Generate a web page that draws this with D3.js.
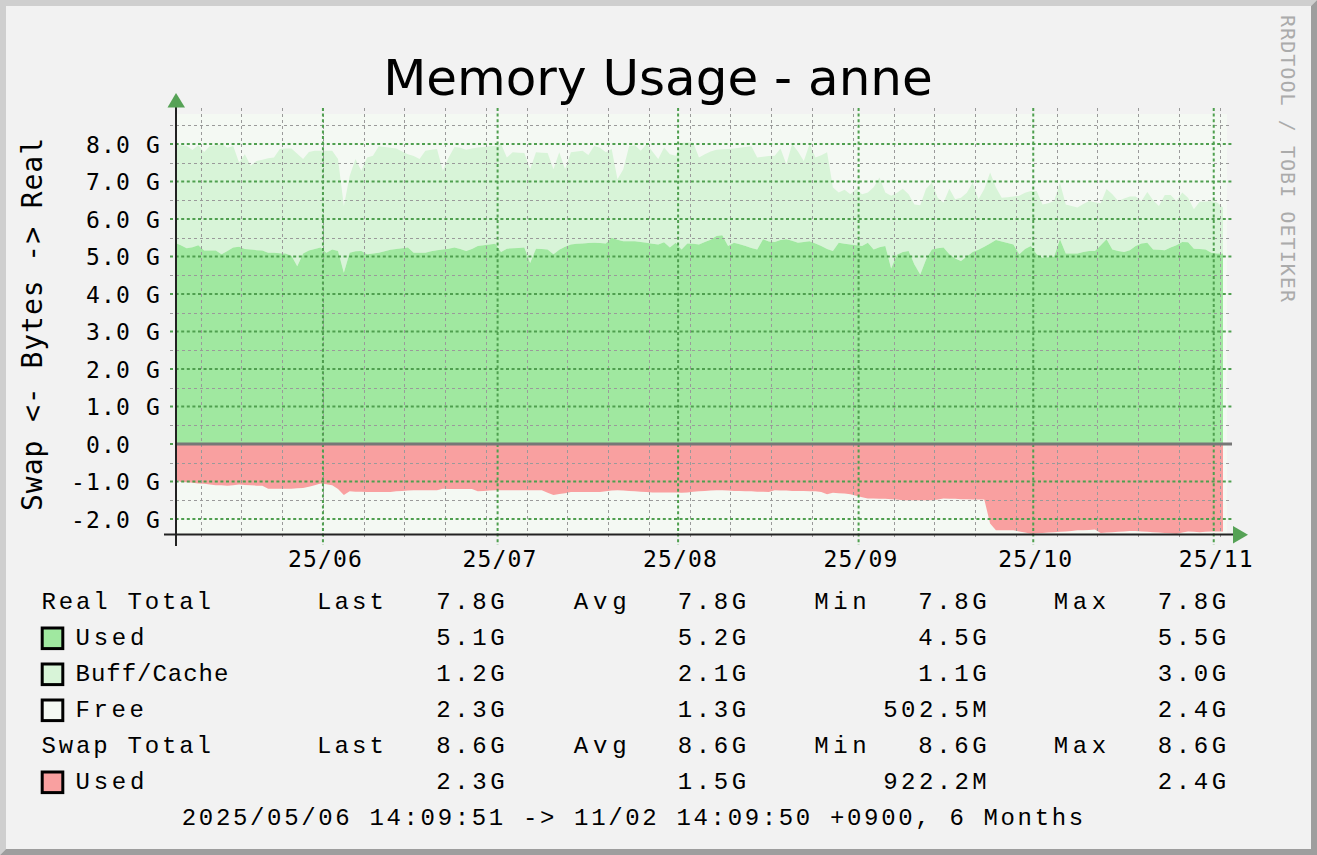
<!DOCTYPE html>
<html><head><meta charset="utf-8">
<script src="https://cdn.jsdelivr.net/npm/d3@7"></script>
<style>html,body{margin:0;padding:0;background:#f2f2f2;} svg{display:block}</style>
</head><body><svg id="c" width="1317" height="855"></svg>
<script>
// ---------- data ----------
const START = Date.UTC(2025, 4, 6, 5, 9, 51); // 2025/05/06 14:09:51 +0900
const END = Date.UTC(2025, 10, 2, 5, 9, 50);  // 2025/11/02 14:09:50 +0900
const STEP_MS = 86400000;                      // one sample per day
const TZ_MS = 9 * 3600000;

const usedReal = [5.37,5.30,5.22,5.25,5.30,5.16,5.16,5.16,5.06,5.15,
5.24,5.26,5.20,5.19,5.17,5.16,5.10,5.10,5.09,5.08,
5.02,4.74,5.08,5.16,5.20,5.24,5.10,5.19,5.15,4.57,
5.10,5.14,5.15,5.06,5.08,5.10,5.14,5.18,5.20,5.22,
5.24,5.10,5.10,5.10,5.14,5.17,5.19,5.21,5.24,5.20,
5.15,5.20,5.28,5.30,5.32,5.34,5.12,5.21,5.22,5.23,
5.24,4.83,5.21,5.20,5.19,5.06,5.18,5.26,5.32,5.34,
5.35,5.36,5.37,5.36,5.35,5.50,5.45,5.41,5.41,5.41,
5.39,5.37,5.34,5.32,5.38,5.24,5.37,5.19,5.35,5.34,
5.32,5.39,5.45,5.55,5.57,5.28,5.37,5.33,5.28,5.23,
5.19,5.46,5.40,5.39,5.44,5.46,5.42,5.37,5.39,5.41,
5.35,5.28,5.20,5.15,5.37,5.34,5.32,5.30,5.28,5.37,
5.19,5.25,5.28,4.68,5.05,5.12,5.15,4.79,4.52,4.92,
5.19,5.22,5.24,5.06,4.95,4.88,5.00,5.12,5.18,5.26,
5.35,5.44,5.40,5.36,5.32,5.06,5.20,5.28,5.06,4.97,
4.98,5.00,5.46,5.08,5.08,5.08,5.12,5.15,5.15,5.30,
5.46,5.19,5.15,5.12,5.17,5.28,5.35,5.37,5.19,5.18,
5.17,5.24,5.30,5.39,5.38,5.21,5.20,5.19,5.10,5.08,
5.08];

const buffCache = [2.63,2.67,2.73,2.59,2.67,2.63,2.79,2.81,2.94,2.75,
2.71,2.25,2.53,2.23,2.38,2.42,2.52,2.54,2.78,2.80,
2.86,3.00,2.52,2.63,2.62,2.58,2.72,2.63,2.45,1.78,
2.05,2.46,2.14,2.58,2.61,2.84,2.78,2.72,2.68,2.58,
2.49,2.58,2.50,2.72,2.71,2.70,2.10,2.43,2.68,2.70,
2.70,2.68,2.63,2.62,2.62,2.61,2.88,2.43,2.56,2.54,
2.52,2.50,2.57,2.57,2.57,2.27,2.60,2.07,2.46,2.46,
2.47,2.35,2.58,2.54,2.43,2.37,1.61,1.92,2.54,2.56,
2.43,2.63,2.46,2.28,2.53,2.49,2.32,2.84,2.69,2.70,
2.32,2.34,2.35,2.30,2.29,2.59,2.51,2.57,2.64,2.71,
2.45,2.20,2.28,2.30,2.44,2.00,2.58,2.43,2.16,2.59,
2.29,2.42,2.58,1.69,1.34,1.44,1.34,1.50,1.38,1.34,
1.66,1.86,1.43,1.94,1.65,1.69,1.51,1.60,1.85,1.89,
1.78,1.35,1.20,1.75,1.58,1.69,1.70,1.85,1.35,1.54,
1.89,1.40,1.17,1.22,1.28,1.56,1.50,1.47,1.69,1.42,
1.44,1.48,1.51,1.31,1.27,1.23,1.28,1.33,1.30,1.12,
1.34,1.47,1.33,1.43,1.43,1.32,1.13,1.35,1.31,1.17,
1.47,1.40,1.18,1.32,1.19,1.05,1.26,1.28,1.38,1.36,
1.23];

const freeReal = [0.62,0.60,0.58,0.66,0.58,0.70,0.56,0.54,0.50,0.60,
0.56,0.98,0.76,1.06,0.92,0.90,0.86,0.84,0.62,0.60,
0.60,0.74,0.88,0.70,0.66,0.66,0.66,0.66,0.88,2.10,
1.32,0.88,1.20,0.84,0.80,0.56,0.58,0.60,0.62,0.70,
0.76,0.80,0.88,0.66,0.64,0.62,1.18,0.84,0.58,0.60,
0.64,0.62,0.58,0.58,0.56,0.55,0.50,0.84,0.70,0.71,
0.72,1.14,0.70,0.71,0.72,1.14,0.70,1.14,0.70,0.68,
0.66,0.76,0.54,0.58,0.70,0.62,1.40,1.14,0.54,0.52,
0.66,0.50,0.68,0.86,0.58,0.74,0.78,0.50,0.50,0.50,
0.84,0.76,0.68,0.64,0.62,0.62,0.60,0.58,0.56,0.54,
0.84,0.82,0.80,0.78,0.60,1.02,0.50,0.68,0.92,0.50,
0.84,0.78,0.70,1.64,1.78,1.70,1.82,1.68,1.82,1.78,
1.64,1.40,1.78,1.86,1.78,1.68,1.82,2.06,2.10,1.68,
1.52,1.92,2.04,1.68,1.94,1.90,1.78,1.52,1.94,1.68,
1.26,1.64,1.92,1.90,1.88,1.86,1.78,1.74,1.74,2.10,
2.08,2.04,1.54,2.10,2.14,2.18,2.10,2.02,2.04,2.06,
1.68,1.82,2.00,1.94,1.88,1.88,2.00,1.76,1.98,2.14,
1.84,1.84,2.00,1.76,1.92,2.22,2.02,2.00,1.98,2.04,
2.30];

const swapUsed = [0.93,1.01,1.02,1.03,1.05,1.06,1.08,1.10,1.10,1.11,
1.10,1.08,1.09,1.10,1.11,1.11,1.19,1.19,1.19,1.19,
1.19,1.18,1.17,1.14,1.10,1.05,1.07,1.10,1.20,1.36,
1.26,1.27,1.27,1.28,1.28,1.28,1.28,1.28,1.26,1.25,
1.24,1.23,1.23,1.23,1.23,1.23,1.19,1.20,1.20,1.20,
1.20,1.20,1.26,1.25,1.24,1.23,1.23,1.23,1.23,1.23,
1.23,1.23,1.23,1.23,1.30,1.36,1.33,1.31,1.28,1.28,
1.28,1.28,1.28,1.28,1.26,1.24,1.23,1.24,1.25,1.26,
1.27,1.28,1.29,1.29,1.29,1.29,1.29,1.30,1.29,1.27,
1.26,1.25,1.24,1.23,1.23,1.24,1.25,1.25,1.26,1.26,
1.27,1.27,1.28,1.23,1.24,1.24,1.25,1.25,1.25,1.26,
1.26,1.28,1.34,1.30,1.31,1.32,1.34,1.38,1.42,1.45,
1.45,1.46,1.46,1.47,1.48,1.50,1.50,1.50,1.50,1.50,
1.50,1.48,1.45,1.46,1.46,1.47,1.47,1.48,1.48,1.48,
2.12,2.30,2.30,2.30,2.30,2.33,2.36,2.39,2.38,2.37,
2.36,2.35,2.34,2.33,2.32,2.30,2.30,2.29,2.28,2.37,
2.36,2.35,2.34,2.33,2.32,2.32,2.33,2.34,2.35,2.36,
2.37,2.38,2.39,2.36,2.33,2.34,2.35,2.34,2.33,2.33,
2.33];

const yTickValues = [-2, -1, 0, 1, 2, 3, 4, 5, 6, 7, 8];
const yTickLabels = ["-2.0 G","-1.0 G","0.0  ","1.0 G","2.0 G","3.0 G","4.0 G","5.0 G","6.0 G","7.0 G","8.0 G"];
const yMinorValues = [-1.5, -0.5, 0.5, 1.5, 2.5, 3.5, 4.5, 5.5, 6.5, 7.5, 8.5];
const monthLabels = ["25/06","25/07","25/08","25/09","25/10","25/11"];

const titleText = "Memory Usage - anne";
const yAxisTitle = "Swap <- Bytes -> Real";
const watermark = "RRDTOOL / TOBI OETIKER";
const footerText = "2025/05/06 14:09:51 -> 11/02 14:09:50 +0900, 6 Months";

const statNames = ["Last", "Avg", "Min", "Max"];
const realTotalStats = ["7.8G", "7.8G", "7.8G", "7.8G"];
const usedStats = ["5.1G", "5.2G", "4.5G", "5.5G"];
const buffStats = ["1.2G", "2.1G", "1.1G", "3.0G"];
const freeStats = ["2.3G", "1.3G", "502.5M", "2.4G"];
const swapTotalStats = ["8.6G", "8.6G", "8.6G", "8.6G"];
const swapUsedStats = ["2.3G", "1.5G", "922.2M", "2.4G"];

// ---------- styles / layout ----------
const C = {
  bg: "#f2f2f2", canvas: "#f4f9f3", used: "#a0e8a0", buff: "#d8f4d8",
  free: "#f4f9f3", swap: "#f9a0a0", major: "#4f9f4f", minor: "#9a9a9a",
  arrow: "#56a256", axis: "#222", zero: "#777"
};
const MONO = "DejaVu Sans Mono";
const LEG = "Liberation Mono";
// approximate ink widths of the legend texts in the reference (proportional font there)
const inkWidth = s => ({
  "Real Total": 167, "Swap Total": 167, "Used": 66.5, "Buff/Cache": 150.5, "Free": 66,
  "Last": 64.5, "Avg": 50.5, "Min": 50, "Max": 50
}[s] ?? (s.length === 6 ? 101 : s.length > 20 ? 899 : 66));

const svg = d3.select("#c");
const W = 1317, H = 855;

// frame
svg.append("rect").attr("width", W).attr("height", H).attr("fill", C.bg);
svg.append("polygon").attr("points", "0,0 1317,0 1311,6 6,6 6,849 0,855").attr("fill", "#cfcfcf");
svg.append("polygon").attr("points", "1317,0 1317,855 0,855 6,849 1311,849 1311,6").attr("fill", "#9e9e9e");

// scales
const x = d3.scaleUtc().domain([new Date(START), new Date(END)]).range([175, 1223]);
const y = d3.scaleLinear().domain([-2.4, 8.8]).range([534, 114]);

const n = Math.min(usedReal.length, buffCache.length, freeReal.length, swapUsed.length);
const rows = d3.range(n).map(i => ({
  t: new Date(START + i * STEP_MS), u: usedReal[i], b: buffCache[i], f: freeReal[i], s: swapUsed[i]
}));

// canvas
svg.append("rect").attr("x", 176).attr("y", 114).attr("width", 1051).attr("height", 420).attr("fill", C.canvas);

svg.append("clipPath").attr("id", "clip").append("rect")
  .attr("x", 175).attr("y", 114).attr("width", 1052).attr("height", 420);
const plot = svg.append("g").attr("clip-path", "url(#clip)");

const areaUsed = d3.area().x(d => x(d.t)).y0(y(0)).y1(d => y(d.u));
const areaBuff = d3.area().x(d => x(d.t)).y0(d => y(d.u)).y1(d => y(d.u + d.b));
const areaFree = d3.area().x(d => x(d.t)).y0(d => y(d.u + d.b)).y1(d => y(d.u + d.b + d.f));
const areaSwap = d3.area().x(d => x(d.t)).y0(y(0)).y1(d => y(-d.s));

plot.append("path").datum(rows).attr("d", areaFree).attr("fill", C.free);
plot.append("path").datum(rows).attr("d", areaBuff).attr("fill", C.buff);
plot.append("path").datum(rows).attr("d", areaUsed).attr("fill", C.used);
plot.append("path").datum(rows).attr("d", areaSwap).attr("fill", C.swap);

// grid
const shiftIn = d => new Date(+d + TZ_MS), shiftOut = d => new Date(+d - TZ_MS);
const monthTicks = d3.utcMonth.range(shiftIn(START), shiftIn(END)).map(shiftOut);
const weekTicks = d3.utcSunday.range(shiftIn(START), shiftIn(END)).map(shiftOut);

const grid = svg.append("g");
grid.selectAll(".hmin").data(yMinorValues).join("line")
  .attr("x1", 170).attr("x2", 1232).attr("y1", d => Math.round(y(d)) + 0.5).attr("y2", d => Math.round(y(d)) + 0.5)
  .attr("stroke", C.minor).attr("stroke-width", 1).attr("stroke-dasharray", "3,3");
grid.selectAll(".vmin").data(weekTicks).join("line")
  .attr("x1", d => Math.round(x(d)) + 0.5).attr("x2", d => Math.round(x(d)) + 0.5)
  .attr("y1", 108).attr("y2", 540)
  .attr("stroke", C.minor).attr("stroke-width", 1).attr("stroke-dasharray", "3,3");
grid.selectAll(".hmaj").data(yTickValues.filter(v => v !== 0)).join("line")
  .attr("x1", 170).attr("x2", 1232).attr("y1", d => y(d)).attr("y2", d => y(d))
  .attr("stroke", C.major).attr("stroke-width", 2).attr("stroke-dasharray", "3,2.6");
grid.selectAll(".vmaj").data(monthTicks).join("line")
  .attr("x1", d => x(d)).attr("x2", d => x(d))
  .attr("y1", 108).attr("y2", 545)
  .attr("stroke", C.major).attr("stroke-width", 2).attr("stroke-dasharray", "3,2.6");

// zero line
svg.append("line").attr("x1", 170).attr("x2", 1232).attr("y1", y(0)).attr("y2", y(0))
  .attr("stroke", C.major).attr("stroke-width", 2).attr("stroke-dasharray", "3,2.6");
svg.append("line").attr("x1", 176).attr("x2", 1232).attr("y1", y(0)).attr("y2", y(0))
  .attr("stroke", C.zero).attr("stroke-width", 3);

// axes lines + arrows
svg.append("line").attr("x1", 176).attr("x2", 176).attr("y1", 100).attr("y2", 546)
  .attr("stroke", C.axis).attr("stroke-width", 2);
svg.append("line").attr("x1", 164).attr("x2", 1236).attr("y1", 534.5).attr("y2", 534.5)
  .attr("stroke", C.axis).attr("stroke-width", 2);
svg.append("polygon").attr("points", "167.5,107.5 185,107.5 176,93").attr("fill", C.arrow);
svg.append("polygon").attr("points", "1233,526 1233,543.5 1248,534.8").attr("fill", C.arrow);

// y axis labels
const yAxisG = svg.append("g").attr("transform", "translate(176,0)")
  .call(d3.axisLeft(y).tickValues(yTickValues).tickFormat((d, i) => yTickLabels[i]).tickSize(0).tickPadding(15));
yAxisG.select(".domain").remove();
yAxisG.attr("font-family", MONO).attr("font-size", 23).attr("color", "#000");
yAxisG.selectAll("text").attr("dy", 8.3).attr("xml:space", "preserve")
  .style("white-space", "pre").style("letter-spacing", "1.15px");

// x axis labels
const xAxisG = svg.append("g").attr("transform", "translate(0,534)")
  .call(d3.axisBottom(x).tickValues(monthTicks).tickFormat((d, i) => monthLabels[i]).tickSize(0).tickPadding(33));
xAxisG.select(".domain").remove();
xAxisG.attr("font-family", MONO).attr("font-size", 23).attr("color", "#000");
xAxisG.selectAll("text").attr("dy", 0).attr("dx", 2).style("letter-spacing", "1.15px");

// title
svg.append("text").attr("x", 658).attr("y", 95).attr("text-anchor", "middle")
  .attr("font-family", "DejaVu Sans").attr("font-size", 50).attr("fill", "#000").text(titleText);

// y axis title
svg.append("text").attr("transform", "translate(41.5,324) rotate(-90)").attr("text-anchor", "middle")
  .attr("font-family", MONO).attr("font-size", 28).style("letter-spacing", "0.95px")
  .attr("fill", "#000").text(yAxisTitle);

// watermark
svg.append("text").attr("transform", "translate(1281,15) rotate(90)").attr("text-anchor", "start")
  .attr("font-family", MONO).attr("font-size", 20).style("letter-spacing", "1.05px")
  .attr("fill", "#ababab").text(watermark);

// legend
const legendRows = [
  {label: "Real Total", stats: realTotalStats, header: true},
  {label: "Used", stats: usedStats, color: C.used},
  {label: "Buff/Cache", stats: buffStats, color: C.buff},
  {label: "Free", stats: freeStats, color: C.free},
  {label: "Swap Total", stats: swapTotalStats, header: true},
  {label: "Used", stats: swapUsedStats, color: C.swap}
];
const statNameX = [318.3, 575, 815.5, 1055];
const statValX = [503.5, 745, 985.5, 1225];
const BEAR = 1.2;
const leg = svg.append("g").attr("font-family", LEG).attr("font-size", 24).attr("fill", "#000");
function legText(str, xInk, yb, anchor) {
  const w = inkWidth(str) + 2 * BEAR;
  const t = leg.append("text").attr("y", yb).attr("textLength", w).attr("lengthAdjust", "spacing").text(str);
  if (anchor === "end") t.attr("x", xInk + BEAR).attr("text-anchor", "end");
  else if (anchor === "middle") t.attr("x", xInk).attr("text-anchor", "middle");
  else t.attr("x", xInk - BEAR);
  return t;
}
legendRows.forEach((r, i) => {
  const by = 609 + i * 36;
  if (r.header) {
    legText(r.label, 42.7, by);
    statNames.forEach((s, j) => legText(s, statNameX[j], by));
  } else {
    leg.append("rect").attr("x", 42.2).attr("y", by - 17).attr("width", 20.6).attr("height", 20.6)
      .attr("fill", r.color).attr("stroke", "#000").attr("stroke-width", 3);
    legText(r.label, 76.7, by);
  }
  r.stats.forEach((v, j) => legText(v, statValX[j], by, "end"));
});
legText(footerText, 632.5, 825, "middle");
</script>
</body></html>
